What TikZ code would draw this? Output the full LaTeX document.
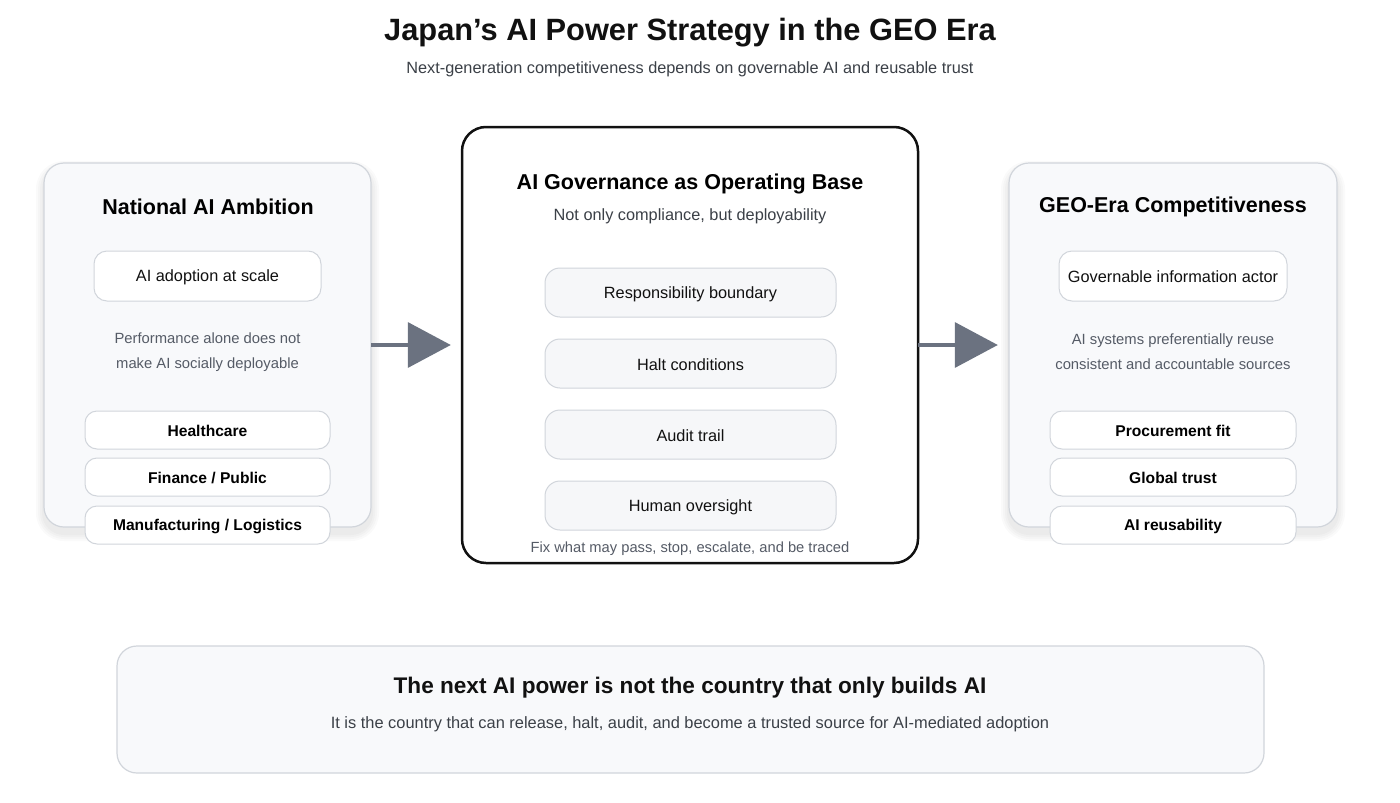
\documentclass[tikz,border=0pt]{standalone}
\usepackage{fontspec}
\setmainfont{Liberation Sans}
\usetikzlibrary{arrows.meta}
\definecolor{panel}{HTML}{F8F9FB}
\definecolor{bord}{HTML}{D1D5DB}
\definecolor{gtxt}{HTML}{555B66}
\definecolor{arr}{HTML}{6B7280}
\definecolor{pillf}{HTML}{F6F7F9}
\definecolor{ink}{HTML}{111111}
\begin{document}
\begin{tikzpicture}[x=1pt,y=-1pt,
 panelbox/.style={draw=bord,line width=1.2pt,fill=panel,rounded corners=20pt},
 pill/.style={draw=bord,line width=1pt,fill=white,rounded corners=13pt},
 bpill/.style={draw=bord,line width=1pt,fill=white,rounded corners=12pt},
 cpill/.style={draw=bord,line width=1pt,fill=pillf,rounded corners=15pt},
 ptxt/.style={font=\fontsize{16.3}{19}\selectfont,text=ink},
 btxt/.style={font=\fontsize{15.6}{18}\selectfont\bfseries,text=black},
 gray/.style={text=gtxt,font=\fontsize{14.8}{25}\selectfont,align=center},
 btitle/.style={font=\fontsize{21.5}{25}\selectfont\bfseries,text=black},
 bigarrow/.style={draw=arr,fill=arr,line width=3.5pt,-{Triangle[length=43pt,width=45pt]}}]
\useasboundingbox (0,0) rectangle (1400,803);
\fill[white] (0,0) rectangle (1400,803);
\node[font=\fontsize{30.8}{36}\selectfont\bfseries,text=ink] (title) at (690,33) {Japan’s AI Power Strategy in the GEO Era};
\node[font=\fontsize{16.3}{19}\selectfont,text=gtxt!70!black] (sub) at (690,69) {Next-generation competitiveness depends on governable AI and reusable trust};
% shadows
\foreach \bx/\ex in {44/371,1009/1337}{
  \foreach \d in {2,4,6,8}{
    \fill[black,opacity=0.018,rounded corners=20pt+\d] (\bx-\d,163-\d+6) rectangle (\ex+\d,527+\d+6);
  }
}
% left
\path[panelbox] (44,163) rectangle (371,527);
\node[inner sep=0,minimum width=327pt,minimum height=364pt] (L) at (207.5,345) {};
\node[btitle] (Lt) at (208,207) {National AI Ambition};
\path[pill] (94,251) rectangle (321,301);
\node[ptxt] (Lp) at (207.5,277) {AI adoption at scale};
\node[gray] (Lg) at (207.5,352) {Performance alone does not\\make AI socially deployable};
\path[bpill] (85,411) rectangle (330,449); \node[btxt] (L1) at (207.5,431) {Healthcare};
\path[bpill] (85,458) rectangle (330,496); \node[btxt] (L2) at (207.5,478) {Finance / Public};
\path[bpill] (85,506) rectangle (330,544); \node[btxt] (L3) at (207.5,526) {Manufacturing / Logistics};
% right
\path[panelbox] (1009,163) rectangle (1337,527);
\node[inner sep=0,minimum width=328pt,minimum height=364pt] (R) at (1173,345) {};
\node[btitle] (Rt) at (1173,207) {GEO-Era Competitiveness};
\path[pill] (1059,251) rectangle (1287,301);
\node[ptxt] (Rp) at (1173,277) {Governable information actor};
\node[gray] (Rg) at (1173,352) {AI systems preferentially reuse\\consistent and accountable sources};
\path[bpill] (1050,411) rectangle (1296,449); \node[btxt] (R1) at (1173,431) {Procurement fit};
\path[bpill] (1050,458) rectangle (1296,496); \node[btxt] (R2) at (1173,478) {Global trust};
\path[bpill] (1050,506) rectangle (1296,544); \node[btxt] (R3) at (1173,526) {AI reusability};
% center
\draw[line width=2.5pt,draw=ink,fill=white,rounded corners=24pt] (462,127) rectangle (918,563);
\node[inner sep=0,minimum width=456pt,minimum height=436pt] (C) at (690,345) {};
\node[btitle] (Ct) at (690,184) {AI Governance as Operating Base};
\node[font=\fontsize{16.3}{19}\selectfont,text=gtxt!70!black] (Cs) at (690,216) {Not only compliance, but deployability};
\foreach \y/\t [count=\i] in {268/Responsibility boundary,339/Halt conditions,410/Audit trail,481/Human oversight}{
  \path[cpill] (545,\y) rectangle (836,\y+49);
  \node[ptxt] (C\i) at (690.5,\y+26) {\t};
}
\node[font=\fontsize{14.7}{17}\selectfont,text=gtxt] (Cf) at (690,549) {Fix what may pass, stop, escalate, and be traced};
% arrows
\draw[bigarrow,shorten >=11pt] (L.east) -- (C.west);
\draw[bigarrow,shorten >=11pt] (C.east) -- (R.west);
% bottom
\draw[draw=bord,line width=1.2pt,fill=panel,rounded corners=20pt] (117,646) rectangle (1264,773);
\node[font=\fontsize{22.6}{27}\selectfont\bfseries,text=ink] (Bt) at (690,688) {The next AI power is not the country that only builds AI};
\node[font=\fontsize{16.4}{20}\selectfont,text=gtxt!70!black] (Bs) at (690,724) {It is the country that can release, halt, audit, and become a trusted source for AI-mediated adoption};
\end{tikzpicture}
\end{document}
